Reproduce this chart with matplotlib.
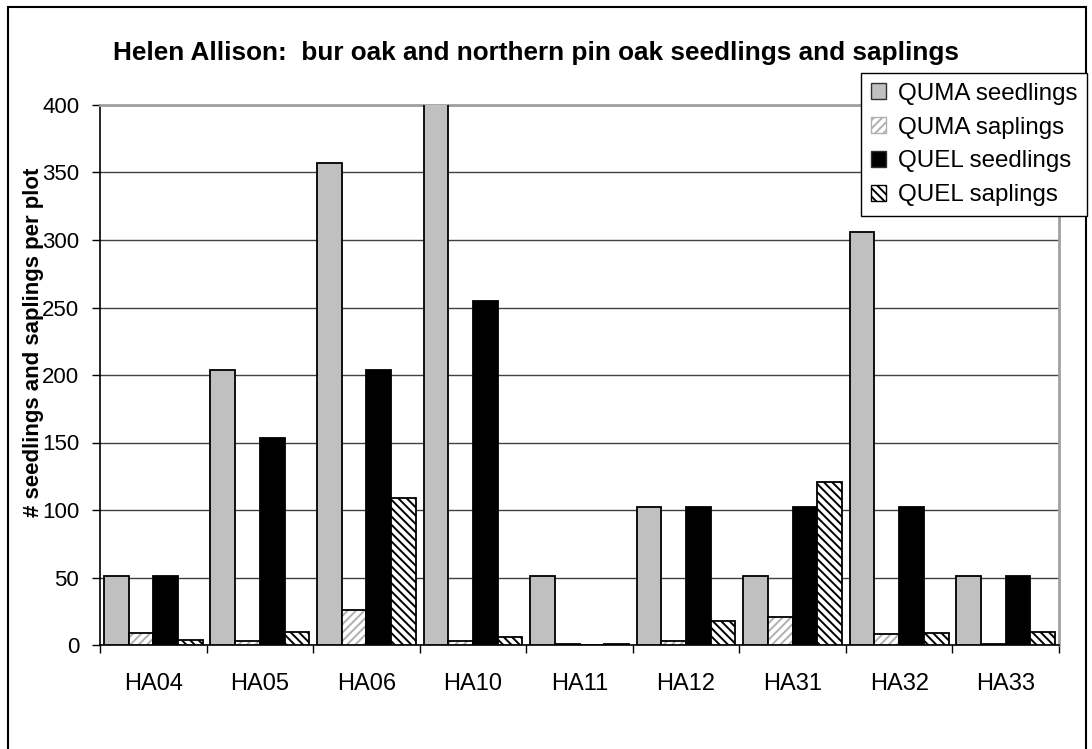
import numpy as np
import matplotlib
matplotlib.use("Agg")
import matplotlib.pyplot as plt
from matplotlib.patches import Patch, Rectangle

plt.rcParams["font.family"] = ["Liberation Sans", "DejaVu Sans"]
plt.rcParams["hatch.linewidth"] = 1.4

plots = ["HA04", "HA05", "HA06", "HA10", "HA11", "HA12", "HA31", "HA32", "HA33"]
quma_seedlings = [51, 204, 357, 408, 51, 102, 51, 306, 51]
quma_saplings = [9, 3, 26, 3, 1, 3, 21, 8, 1]
quel_seedlings = [51, 153, 204, 255, 0, 102, 102, 102, 51]
quel_saplings = [4, 10, 109, 6, 1, 18, 121, 9, 10]

series = [
    ("QUMA seedlings", quma_seedlings, "#c0c0c0", None, None),
    ("QUMA saplings", quma_saplings, "white", "////", "#b0b0b0"),
    ("QUEL seedlings", quel_seedlings, "black", None, None),
    ("QUEL saplings", quel_saplings, "white", "\\\\\\\\", "black"),
]

fig = plt.figure(figsize=(10.92, 7.49), dpi=100)
ax = fig.add_axes([100 / 1092, 1 - 645 / 749, 959 / 1092, 540 / 749])

x = np.arange(len(plots))
width = 0.2315
handles = []
for k, (label, vals, face, hatch, hcolor) in enumerate(series):
    pos = x + (k - 1.5) * width
    if hatch:
        # hatch drawn in its own colour, black outline on top
        ax.bar(pos, vals, width, color=face, hatch=hatch, edgecolor=hcolor,
               linewidth=0, zorder=3)
        ax.bar(pos, vals, width, fill=False, edgecolor="black",
               linewidth=1.3, zorder=4)
        handles.append(Patch(facecolor=face, hatch=hatch, edgecolor=hcolor,
                             linewidth=1, label=label))
    else:
        ax.bar(pos, vals, width, color=face, edgecolor="black",
               linewidth=1.3, zorder=3)
        handles.append(Patch(facecolor=face, edgecolor="#303030",
                             linewidth=1, label=label))

ax.set_xlim(-0.5, len(plots) - 0.5)
ax.set_ylim(0, 400)
ax.set_yticks(np.arange(0, 401, 50))
ax.yaxis.grid(True, color="#404040", linewidth=1, zorder=0)
ax.set_axisbelow(True)

ax.set_xticks(x)
ax.set_xticklabels(plots, fontsize=17)
ax.set_xticks(np.arange(len(plots) + 1) - 0.5, minor=True)
ax.tick_params(axis="x", which="major", length=0, pad=20)
ax.tick_params(axis="x", which="minor", length=6, width=1, color="black")
ax.tick_params(axis="y", length=6, width=1, labelsize=16, pad=9)

for side in ("left", "bottom"):
    ax.spines[side].set_color("black")
    ax.spines[side].set_linewidth(1.2)
for side in ("top", "right"):
    ax.spines[side].set_color("#a0a0a0")
    ax.spines[side].set_linewidth(2)

ax.set_ylabel("# seedlings and saplings per plot", fontsize=16, fontweight="bold")
ax.yaxis.set_label_coords(-0.058, 0.56)

fig.text(536 / 1092, 1 - 53 / 749, "Helen Allison:  bur oak and northern pin oak seedlings and saplings",
         fontsize=18.8, fontweight="bold", ha="center", va="center")

leg = fig.legend(handles=handles, loc="upper right",
                 bbox_to_anchor=(1087 / 1092, 1 - 73 / 749), fontsize=17.4,
                 frameon=True, fancybox=False, framealpha=1, edgecolor="black",
                 handlelength=0.62, handleheight=0.62, handletextpad=0.5,
                 labelspacing=0.49, borderpad=0.4, borderaxespad=0)
leg.get_frame().set_linewidth(1)

# outer chart border
fig.patches.append(Rectangle((8 / 1092, -0.01), 1078 / 1092, 1.01 - 7 / 749,
                             transform=fig.transFigure, fill=False,
                             edgecolor="black", linewidth=1.5))

fig.savefig("out.png", dpi=100)
